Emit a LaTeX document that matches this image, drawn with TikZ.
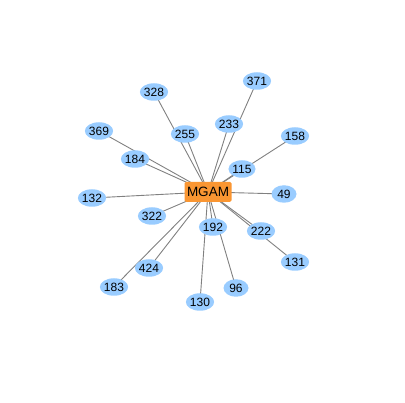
\documentclass[tikz,border=0pt]{standalone}
\usepackage{fontspec}
\setmainfont{Liberation Sans}
\usepackage{tikz}
\usetikzlibrary{shapes,backgrounds}
\definecolor{hubfill}{RGB}{250,150,50}
\definecolor{leaffill}{RGB}{153,204,255}
\definecolor{edgegray}{RGB}{128,128,128}

\begin{document}
\begin{tikzpicture}[x=1pt,y=-1pt,
    hub/.style={fill=hubfill, rounded corners=1.5pt, minimum width=47pt, minimum height=20pt, inner sep=0pt, font=\fontsize{13.5}{15}\selectfont},
    leaf/.style={ellipse, fill=leaffill, minimum width=25pt, minimum height=17.5pt, inner sep=0pt, font=\fontsize{12}{14}\selectfont},
    link/.style={draw=edgegray, line width=0.9pt}]
    \useasboundingbox (0,0) rectangle (405,403);
    \node[hub] (mgam) at (208,192) {MGAM};
    \node[leaf] (n328) at (154,92) {328};
    \node[leaf] (n369) at (99,131) {369};
    \node[leaf] (n255) at (185,134) {255};
    \node[leaf] (n184) at (135,159) {184};
    \node[leaf] (n132) at (92,198) {132};
    \node[leaf] (n233) at (229,124) {233};
    \node[leaf] (n371) at (257,81) {371};
    \node[leaf] (n158) at (295,136) {158};
    \node[leaf] (n115) at (242,169) {115};
    \node[leaf] (n49) at (284,194) {49};
    \node[leaf] (n322) at (152,216) {322};
    \node[leaf] (n192) at (213,227) {192};
    \node[leaf] (n222) at (261,231) {222};
    \node[leaf] (n131) at (295,262) {131};
    \node[leaf] (n424) at (149,268) {424};
    \node[leaf] (n183) at (114,287) {183};
    \node[leaf] (n130) at (200,302) {130};
    \node[leaf] (n96) at (236,288) {96};

    \begin{pgfonlayer}{background}
    \draw[link] (mgam.center) -- (n328.center);
    \draw[link] (mgam.center) -- (n369.center);
    \draw[link] (mgam.center) -- (n255.center);
    \draw[link] (mgam.center) -- (n184.center);
    \draw[link] (mgam.center) -- (n132.center);
    \draw[link] (mgam.center) -- (n233.center);
    \draw[link] (mgam.center) -- (n371.center);
    \draw[link] (mgam.center) -- (n158.center);
    \draw[link] (mgam.center) -- (n115.center);
    \draw[link] (mgam.center) -- (n49.center);
    \draw[link] (mgam.center) -- (n322.center);
    \draw[link] (mgam.center) -- (n192.center);
    \draw[link] (mgam.center) -- (n222.center);
    \draw[link] (mgam.center) -- (n131.center);
    \draw[link] (mgam.center) -- (n424.center);
    \draw[link] (mgam.center) -- (n183.center);
    \draw[link] (mgam.center) -- (n130.center);
    \draw[link] (mgam.center) -- (n96.center);
    \end{pgfonlayer}
\end{tikzpicture}
\end{document}
